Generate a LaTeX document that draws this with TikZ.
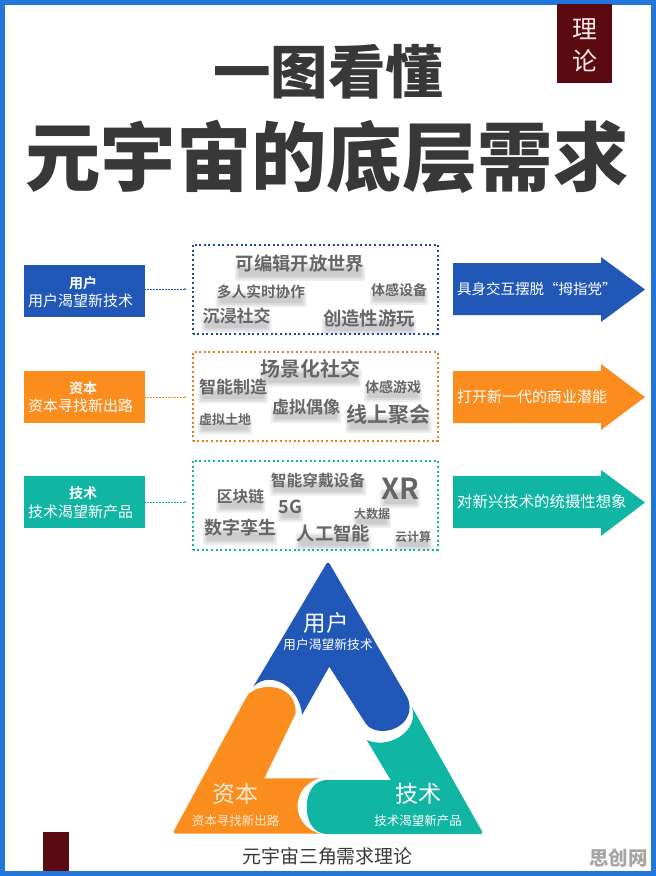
\documentclass[tikz,border=0pt]{standalone}
\usepackage{xcolor}
\usepackage{fontspec}
\usepackage{tikz}
\usetikzlibrary{backgrounds}
\usetikzlibrary{arrows.meta}

\setmainfont{Noto Sans CJK SC}
\newfontfamily\heavyfont{Noto Sans CJK SC Black}
\newfontfamily\boldfont{Noto Sans CJK SC Bold}

\definecolor{frameblue}{HTML}{2278DA}
\definecolor{userblue}{HTML}{2158B8}
\definecolor{capitalorange}{HTML}{FB8C1E}
\definecolor{techteal}{HTML}{10B5A4}
\definecolor{tabred}{HTML}{5A0A10}
\definecolor{titlegray}{HTML}{383838}
\definecolor{wordgray}{HTML}{666666}

\newcommand{\fs}[1]{\fontsize{#1}{#1}\selectfont}
% one word of a cloud, with a soft blot under it
\newcommand{\cloudword}[5]{
    \draw (#2,#3) node[anchor=center, inner sep=0, color=wordgray] (#1) {\fs{#4}\boldfont #5};
    \begin{pgfonlayer}{background}
        \fill[blot] ([xshift=-1]#1.west) rectangle ([xshift=1, yshift=-8]#1.south east);
        \fill[blot] ([xshift=1, yshift=-2]#1.west) rectangle ([xshift=-1, yshift=-6]#1.south east);
        \fill[blot] ([xshift=3, yshift=-4]#1.west) rectangle ([xshift=-3, yshift=-4]#1.south east);
    \end{pgfonlayer}
}

\tikzset{
    blot/.style={color=black, opacity=0.07, rounded corners=2},
    sidebox/.style={anchor=center, minimum width=121, minimum height=52, inner sep=0},
    sidehead/.style={anchor=center, text=white, inner sep=0},
    dotbox/.style={anchor=center, draw, line width=2, dash pattern=on 2 off 2.6, minimum width=245, minimum height=89, inner sep=0},
    arrowtext/.style={anchor=west, text=white, inner sep=0},
    link/.style={line width=0.5, densely dotted, -{Latex[length=2.5]}},
    tritext/.style={anchor=center, text=white, inner sep=0}
}

\begin{document}
\begin{tikzpicture}[x=1pt, y=-1pt]
    \useasboundingbox (0,0) rectangle (656,876);

    % Frame
    \draw[line width=5, color=frameblue] (2.5,2.5) rectangle (653.5,873.5);
    \fill[color=tabred] (557,4) rectangle (612,83);
    \draw (584.5,29) node[anchor=center, color=red!8] (tab1) {\fs{25}理};
    \draw (584.5,61) node[anchor=center, color=red!8] (tab2) {\fs{25}论};
    \fill[color=tabred] (43,832) rectangle (69,871);

    % Title
    \draw (328,72) node[anchor=center, color=titlegray] (title1) {\fs{57.5}\heavyfont 一图看懂};
    \draw (327,157) node[anchor=center, color=titlegray] (title2) {\fs{75.4}\heavyfont 元宇宙的底层需求};

    % Left boxes
    \draw (84.5,291) node[sidebox, fill=userblue] (ubox) {};
    \draw (83,283) node[sidehead] (uhead) {\fs{14}\boldfont 用户};
    \draw (80.5,301) node[sidehead] (usub) {\fs{15}用户渴望新技术};

    \draw (84.5,397) node[sidebox, fill=capitalorange] (cbox) {};
    \draw (83,388) node[sidehead] (chead) {\fs{14}\boldfont 资本};
    \draw (80.5,406) node[sidehead] (csub) {\fs{15}资本寻找新出路};

    \draw (84.5,502) node[sidebox, fill=techteal] (tbox) {};
    \draw (83,493) node[sidehead] (thead) {\fs{14}\boldfont 技术};
    \draw (80.5,512) node[sidehead] (tsub) {\fs{15}技术渴望新产品};

    \coordinate (uend) at (187,289);
    \coordinate (cend) at (187,397);
    \coordinate (tend) at (187,502);
    \draw[link, color=userblue] (ubox.east |- uend) -- (uend);
    \draw[link, color=capitalorange] (cbox.east |- cend) -- (cend);
    \draw[link, color=techteal] (tbox.east |- tend) -- (tend);

    % Dotted boxes
    \draw (315,289) node[dotbox, color=userblue!85!black] (ucloud) {};
    \draw (315,396.5) node[dotbox, color=capitalorange!90!black] (ccloud) {};
    \draw (315,505) node[dotbox, color=techteal] (tcloud) {};

    % Word clouds
    \cloudword{u1}{300}{264}{18.3}{可编辑开放世界}
    \cloudword{u2}{261}{292}{14.7}{多人实时协作}
    \cloudword{u3}{399}{290}{14}{体感设备}
    \cloudword{u4}{236.5}{316}{17}{沉浸社交}
    \cloudword{u5}{369}{318}{18.4}{创造性游玩}

    \cloudword{c1}{310.5}{369}{20}{场景化社交}
    \cloudword{c2}{233}{387}{17}{智能制造}
    \cloudword{c3}{393}{387}{14}{体感游戏}
    \cloudword{c4}{306}{407}{17}{虚拟偶像}
    \cloudword{c5}{388.5}{415}{21}{线上聚会}
    \cloudword{c6}{225}{420}{13}{虚拟土地}

    \cloudword{t1}{318}{480}{15.7}{智能穿戴设备}
    \cloudword{t2}{400}{489}{29}{XR}
    \cloudword{t3}{240.5}{497}{15.7}{区块链}
    \cloudword{t4}{290.5}{507}{18}{5G}
    \cloudword{t5}{372}{514}{12}{大数据}
    \cloudword{t6}{240}{528}{18}{数字孪生}
    \cloudword{t7}{333.5}{533}{18.3}{人工智能}
    \cloudword{t8}{413}{537}{12}{云计算}

    % Right arrows
    \fill[color=userblue] (453,263) -- (601,263) -- (601,257) -- (645,289.5) -- (601,322) -- (601,315) -- (453,315) -- cycle;
    \fill[color=capitalorange] (453,371) -- (601,371) -- (601,364) -- (645,397) -- (601,430) -- (601,423) -- (453,423) -- cycle;
    \fill[color=techteal] (453,476) -- (601,476) -- (601,470) -- (645,502.5) -- (601,536) -- (601,528) -- (453,528) -- cycle;
    \draw (457,289) node[arrowtext] (utext) {\fs{14.5}具身交互摆脱“拇指党”};
    \draw (457,397) node[arrowtext] (ctext) {\fs{15}打开新一代的商业潜能};
    \draw (457,502) node[arrowtext] (ttext) {\fs{15.4}对新兴技术的统摄性想象};

    % Triangle
    \fill[color=userblue] (253.3,686.7) [rounded corners=3] -- (328,561) [sharp corners] -- (406,695)
        .. controls (416,712) and (404,730) .. (383,731)
        .. controls (376,731) and (370,729) .. (366,724)
        -- (329.3,666.7) -- (302,715)
        .. controls (301,690) and (272,668) .. (253.3,686.7) -- cycle;
    \fill[color=capitalorange] (320,833.5) [rounded corners=3] -- (172.5,833.5) [sharp corners] -- (246.7,696.7)
        .. controls (254,683) and (296,680) .. (295.7,713.3)
        -- (264.3,778.3) -- (320,778.3)
        .. controls (290,786) and (290,826) .. (320,833.5) -- cycle;
    \fill[color=techteal] (366.7,740) -- (390.7,780) -- (326.7,780)
        .. controls (300,780) and (300,834) .. (326.7,834)
        [rounded corners=3] -- (483.5,834) [sharp corners] -- (411.7,706.7)
        .. controls (420,730) and (390,750) .. (366.7,740) -- cycle;

    \draw (326,622.5) node[tritext] (tri1) {\fs{22.5}用户};
    \draw (328,645) node[tritext] (tri1b) {\fs{12.8}用户渴望新技术};
    \draw (235,794) node[tritext, text=white!85!orange] (tri2) {\fs{23}资本};
    \draw (235.5,821) node[tritext, text=white!85!orange] (tri2b) {\fs{12.5}资本寻找新出路};
    \draw (418,794) node[tritext] (tri3) {\fs{23}技术};
    \draw (418,821) node[tritext] (tri3b) {\fs{12.5}技术渴望新产品};

    % Caption and site mark
    \draw (327.5,856) node[anchor=center, color=titlegray] (caption) {\fs{18.9}元宇宙三角需求理论};
    \draw (618.5,858) node[anchor=center, color=black!35] (site) {\fs{19.5}\heavyfont 思创网};
\end{tikzpicture}
\end{document}
